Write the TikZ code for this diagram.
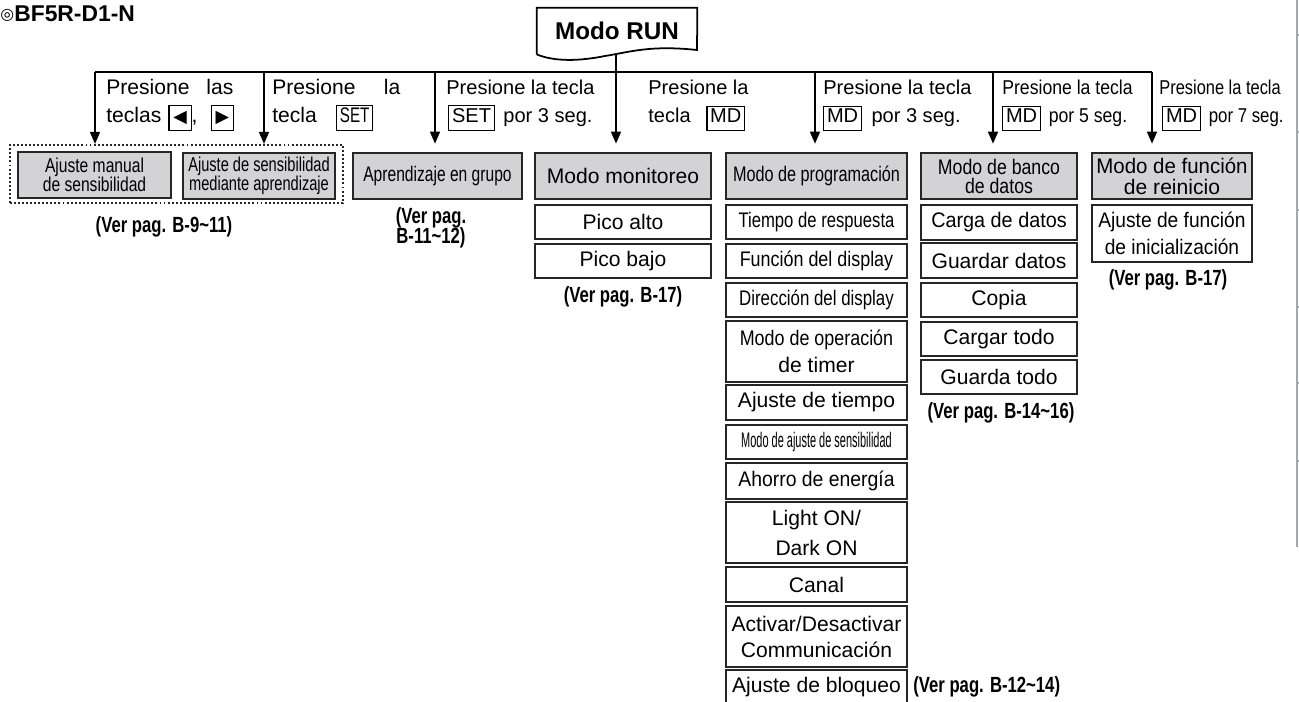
\documentclass[tikz,border=0pt]{standalone}
\usepackage{fontspec}
\setmainfont{Liberation Sans}
\newfontfamily\symfam{DejaVu Sans}
\usepackage{xcolor}
\usepackage{graphicx}
\usepackage{tikz}
\usetikzlibrary{arrows.meta}
\definecolor{boxgray}{RGB}{211,211,213}
\definecolor{boxline}{RGB}{38,38,38}
\definecolor{edgegray}{RGB}{160,168,176}
\newcommand{\sx}[2]{\scalebox{#1}[1]{#2}}
\newcommand{\fsz}[2]{\fontsize{#1}{#2}\selectfont}
\newcommand{\tight}[2]{\fontsize{#1}{#2}\selectfont\lineskiplimit=-20pt}
\newcommand{\keyb}[1]{{\setlength{\fboxsep}{1.5pt}\setlength{\fboxrule}{0.6pt}\fbox{\vphantom{Ag}#1}}}
\newcommand{\arrkey}[1]{\keyb{\makebox[9pt]{\symfam\fontsize{10pt}{10pt}\selectfont #1}}}

\begin{document}
\begin{tikzpicture}[x=0.02cm,y=-0.02cm,
  sz/.style 2 args={minimum width=#1*0.02cm,minimum height=#2*0.02cm},
  box/.style={draw=boxline,line width=1.5pt,inner sep=0pt,align=center,font=\fsz{12pt}{14pt}},
  hbox/.style={box,fill=boxgray},
  conn/.style={line width=0.85pt},
  arr/.style={conn,-{Triangle[length=0.24cm,width=0.2cm]}},
  lbl/.style={anchor=base west,inner sep=0pt,font=\fsz{11.4pt}{14pt}},
  note/.style={inner sep=0pt,align=center,font=\bfseries\tight{12.5pt}{11.6pt}}]
\useasboundingbox (0,0) rectangle (1299,702);

\node (mark) [anchor=base west,inner sep=0pt,font=\symfam\fsz{9pt}{9pt}] at (0,20) {◎};
\node (title) [anchor=base west,inner sep=0pt,font=\bfseries\fsz{13pt}{13pt}] at (14,22) {BF5R-D1-N};

\node (run) [sz={160}{46},inner sep=0pt,font=\bfseries\fsz{13.8pt}{16pt}] at (617,31) {Modo RUN};
\draw [line width=1pt] (run.south west) -- (run.north west) -- (run.north east) -- (697,50)
  .. controls (650,45) and (630,52) .. (605,56) .. controls (580,61) and (555,62) .. (run.south west);

\coordinate (d1) at (95,72);
\coordinate (d2) at (264,72);
\coordinate (d3) at (435,72);
\coordinate (d4) at (616,72);
\coordinate (d5) at (815,72);
\coordinate (d6) at (993,72);
\coordinate (d7) at (1152,72);
\draw [conn] (d1) -- (d7);
\draw [conn] (d4 |- run.south) -- (d4);

\node (manbox) [draw=boxline,line width=1.2pt,dash pattern=on 1.1pt off 1.2pt,inner sep=0pt,sz={333}{58}] at (176.5,174) {};

\node (man) [hbox,font=\tight{11.4pt}{10.6pt},sz={153}{46}] at (94.5,175) {\sx{0.78}{Ajuste manual}\\\sx{0.78}{de sensibilidad}};
\node (apr) [hbox,font=\tight{11.4pt}{10.8pt},sz={152}{46}] at (259,176) {\sx{0.73}{Ajuste de sensibilidad}\\\sx{0.73}{mediante aprendizaje}};
\node (grp) [hbox,sz={169}{46}] at (437.5,176) {\sx{0.74}{Aprendizaje en grupo}};

\node (mon) [hbox,sz={176}{46}] at (623,176) {Modo monitoreo};
\node (pa) [box,sz={176}{34}] at (623,222) {Pico alto};
\node (pb) [box,sz={176}{34}] at (623,261) {Pico bajo};

\node (prog) [hbox,sz={181}{46}] at (816.5,176) {\sx{0.77}{Modo de programación}};
\node (tr) [box,sz={181}{34}] at (816.5,222) {\sx{0.79}{Tiempo de respuesta}};
\node (fd) [box,sz={181}{34}] at (816.5,261) {\sx{0.85}{Función del display}};
\node (dd) [box,sz={181}{34}] at (816.5,300) {\sx{0.8}{Dirección del display}};
\node (ot) [box,font=\fsz{12pt}{15.4pt},sz={181}{61}] at (816.5,351.5) {\sx{0.85}{Modo de operación}\\de timer};
\node (at) [box,sz={181}{35}] at (816.5,402.5) {Ajuste de tiempo};
\node (as) [box,sz={181}{34}] at (816.5,442) {\sx{0.52}{Modo de ajuste de sensibilidad}};
\node (ae) [box,sz={181}{36}] at (816.5,481) {\sx{0.92}{Ahorro de energía}};
\node (ld) [box,font=\fsz{12pt}{17.1pt},sz={181}{61}] at (816.5,532.5) {Light ON/\\Dark ON};
\node (ca) [box,sz={181}{35}] at (816.5,584.5) {Canal};
\node (com) [box,font=\fsz{12pt}{14.8pt},sz={181}{61}] at (816.5,636.5) {Activar/Desactivar\\Communicación};
\node (bl) [box,sz={181}{34}] at (816.5,687) {Ajuste de bloqueo};

\node (bd) [hbox,font=\tight{12pt}{10.8pt},sz={156}{46}] at (999,176) {\sx{0.84}{Modo de banco}\\\sx{0.84}{de datos}};
\node (cd) [box,sz={156}{35}] at (999,222.5) {\sx{0.94}{Carga de datos}};
\node (gd) [box,sz={156}{35}] at (999,260.5) {Guardar datos};
\node (co) [box,sz={156}{34}] at (999,300) {Copia};
\node (ct) [box,sz={156}{34}] at (999,339) {Cargar todo};
\node (gt) [box,sz={156}{34}] at (999,377) {Guarda todo};

\node (rs) [hbox,font=\tight{12pt}{12pt},sz={160}{46}] at (1172,176) {\sx{0.97}{Modo de función}\\de reinicio};
\node (ini) [box,font=\fsz{12pt}{15.4pt},sz={160}{57}] at (1172,233.5) {\sx{0.91}{Ajuste de función}\\\sx{0.91}{de inicialización}};

\node (n1) [note] at (164,227) {\sx{0.76}{(Ver pag. B-9\textasciitilde 11)}};
\node (n2) [note] at (431,228) {\sx{0.76}{(Ver pag.}\\\sx{0.76}{B-11\textasciitilde 12)}};
\node (n3) [note] at (623,297) {\sx{0.76}{(Ver pag. B-17)}};
\node (n4) [note] at (1001,413) {\sx{0.76}{(Ver pag. B-14\textasciitilde 16)}};
\node (n5) [note] at (1168,280) {\sx{0.76}{(Ver pag. B-17)}};
\node (n6) [note,anchor=west] at (913,687) {\sx{0.76}{(Ver pag. B-12\textasciitilde 14)}};

\node (l1a) [lbl,font=\fsz{12pt}{14pt}] at (106,95) {\makebox[72.3pt][s]{Presione las}};
\node (l1b) [lbl,font=\fsz{12pt}{14pt}] at (106,123) {teclas\hspace{4pt}\arrkey{◀},\hspace{7.5pt}\arrkey{▶}};
\node (l2a) [lbl,font=\fsz{12pt}{14pt}] at (272,95) {\makebox[72.8pt][s]{Presione la}};
\node (l2b) [lbl,font=\fsz{12pt}{14pt}] at (272,123) {tecla\hspace{11pt}\keyb{\sx{0.72}{SET}}};
\node (l3a) [lbl] at (446,95) {Presione la tecla};
\node (l3b) [lbl] at (448,123) {\keyb{SET}\hspace{5pt}por 3 seg.};
\node (l4a) [lbl] at (648,95) {Presione la};
\node (l4b) [lbl] at (648,123) {tecla\hspace{9pt}\keyb{MD}};
\node (l5a) [lbl] at (823,95) {Presione la tecla};
\node (l5b) [lbl] at (823,123) {\keyb{MD}\hspace{5.5pt}por 3 seg.};
\node (l6a) [lbl] at (1002,95) {\sx{0.88}{Presione la tecla}};
\node (l6b) [lbl] at (1002,123) {\keyb{MD}\hspace{4.5pt}\sx{0.88}{por 5 seg.}};
\node (l7a) [lbl] at (1159,95) {\sx{0.82}{Presione la tecla}};
\node (l7b) [lbl] at (1162,123) {\keyb{MD}\hspace{4.5pt}\sx{0.84}{por 7 seg.}};

\draw [arr] (d1) -- (d1 |- manbox.north);
\draw [arr] (d2) -- (d2 |- manbox.north);
\foreach \d/\b in {d3/grp,d4/mon,d5/prog,d6/bd,d7/rs}
  \draw [arr,shorten >=0.16cm] (\d) -- (\d |- \b.north);

\draw [edgegray,line width=0.6pt] (1297,0) -- (1297,547);
\foreach \y in {35,132,210,307,383,461}
  \draw [edgegray,line width=0.6pt] (1297,\y) -- (1299,\y);
\end{tikzpicture}
\end{document}
